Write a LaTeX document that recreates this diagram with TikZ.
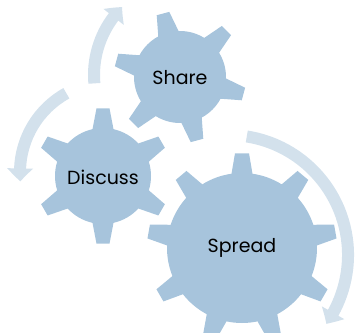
\documentclass[tikz,border=0pt]{standalone}
\usepackage{fontspec}
\setmainfont{Poppins}
\usetikzlibrary{arrows.meta,bending}
\definecolor{gearblue}{HTML}{A7C4DC}
\definecolor{arrowblue}{HTML}{D3E1EC}
\tikzset{
  gearfill/.style={fill=gearblue},
  cyclearrow/.style={draw=arrowblue, line width=12pt,
    -{Triangle[width=25pt,length=13pt,bend]}},
  gearlabel/.style={font=\fontsize{19}{21}\selectfont, text=black, inner sep=0pt}
}
% cx cy n phase rb ro halfbase halftip
\newcommand{\mygear}[8]{%
  \pgfmathsetmacro{\gstep}{360/#3}%
  \pgfmathsetmacro{\gbb}{asin(#7/#5)}%
  \pgfmathsetmacro{\gbt}{asin(#8/#6)}%
  \fill[gearfill, shift={(#1pt,#2pt)}] ({#4+\gbb}:#5pt)
    \foreach \k in {1,...,#3} {
      arc[start angle={#4+(\k-1)*\gstep+\gbb}, end angle={#4+\k*\gstep-\gbb}, radius=#5pt]
      -- ({#4+\k*\gstep-\gbt}:#6pt) -- ({#4+\k*\gstep+\gbt}:#6pt) -- ({#4+\k*\gstep+\gbb}:#5pt)
    } -- cycle;
}
\begin{document}
\begin{tikzpicture}[x=1pt,y=1pt]
\useasboundingbox (0,0) rectangle (355,332);
% arrows
\coordinate (ca1) at (190,257);
\coordinate (ca2) at (110,160);
\coordinate (ca3) at (228,77);
\draw[cyclearrow] ([shift={(185:96pt)}]ca1) arc[start angle=185, end angle=135, radius=96pt];
\draw[cyclearrow] ([shift={(119:90pt)}]ca2) arc[start angle=119, end angle=186, radius=90pt];
\draw[cyclearrow] ([shift={(81:120pt)}]ca3) arc[start angle=81, end angle=-35, radius=120pt];
% gears
\mygear{180}{255}{6}{45}{46}{66}{10.5}{6.5}
\mygear{103}{156}{6}{90}{48}{68}{10.5}{6.5}
\mygear{242}{84}{9}{90}{75}{95}{10.5}{7}
% labels
\node[gearlabel] (share) at (180,254) {Share};
\node[gearlabel] (discuss) at (103,155) {Discuss};
\node[gearlabel] (spread) at (242,84) {Spread};
\end{tikzpicture}
\end{document}
